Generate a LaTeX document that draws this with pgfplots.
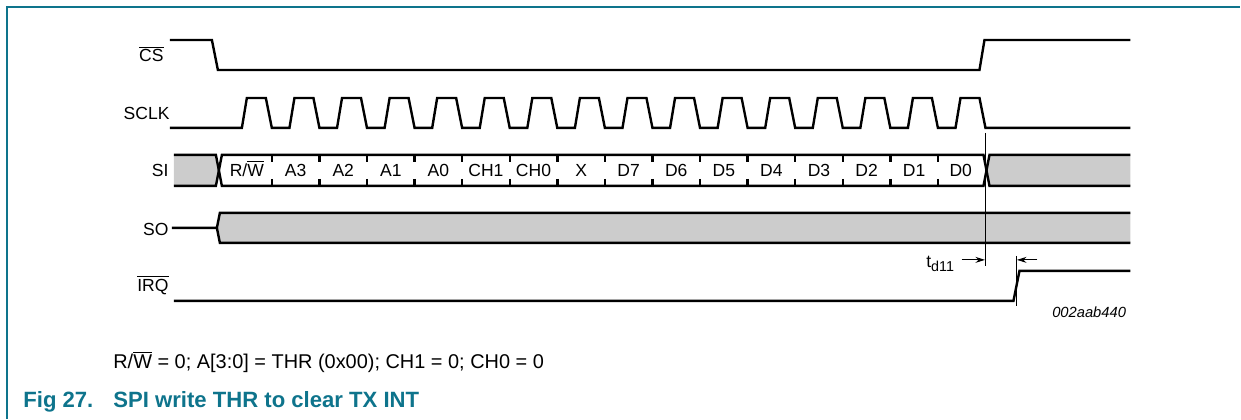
\documentclass[border=0pt]{standalone}
\usepackage{fontspec}
\setmainfont{Liberation Sans}
\usepackage{pgfplots}
\pgfplotsset{compat=1.18}
\usetikzlibrary{arrows.meta}
\definecolor{nxpteal}{RGB}{14,116,140}
\definecolor{busgray}{RGB}{204,204,204}
\newcommand{\lbl}{\fontsize{8.8}{10}\selectfont}
\tikzset{
  sig/.style={black, line width=1.2bp, mark=none},
  thinl/.style={black, line width=0.5bp, mark=none},
  lab/.style={inner sep=0pt, font=\lbl},
}

\begin{document}
\begin{tikzpicture}
\begin{axis}[
    scale only axis,
    width=620.5bp, height=209.5bp,
    xmin=0, xmax=1241, ymin=0, ymax=419,
    y dir=reverse,
    hide axis,
    clip=false,
]
% page extent and frame
\addplot[draw=none] coordinates {(0,0) (1241,419)};
\addplot[draw=nxpteal, line width=0.65bp] coordinates {(7,419) (7,7) (1241,7)};

% CS
\addplot[sig] coordinates {(170,40) (212,40) (218,70) (980,70) (985,40) (1131,40)};

% SCLK, 16 clocks
\addplot[sig] coordinates {
(170,128)
(242,128)(247,98)(266,98)(272,128)
(289.6,128)(294.6,98)(313.6,98)(319.6,128)
(337.2,128)(342.2,98)(361.2,98)(367.2,128)
(384.8,128)(389.8,98)(408.8,98)(414.8,128)
(432.4,128)(437.4,98)(456.4,98)(462.4,128)
(480,128)(485,98)(504,98)(510,128)
(527.6,128)(532.6,98)(551.6,98)(557.6,128)
(575.2,128)(580.2,98)(599.2,98)(605.2,128)
(622.8,128)(627.8,98)(646.8,98)(652.8,128)
(670.4,128)(675.4,98)(694.4,98)(700.4,128)
(718,128)(723,98)(742,98)(748,128)
(765.6,128)(770.6,98)(789.6,98)(795.6,128)
(813.2,128)(818.2,98)(837.2,98)(843.2,128)
(860.8,128)(865.8,98)(884.8,98)(890.8,128)
(908.4,128)(913.4,98)(932.4,98)(938.4,128)
(956,128)(961,98)(980,98)(986,128)
(1131,128)};

% SI bus
\addplot[fill=busgray, draw=none] coordinates {(174,155) (216,155) (219,170.5) (216,186) (174,186)};
\addplot[fill=busgray, draw=none] coordinates {(987,170.5) (990,155) (1131,155) (1131,186) (990,186)};
\addplot[sig] coordinates {(174,155) (216,155) (222,186) (984,186) (990,155) (1131,155)};
\addplot[sig] coordinates {(174,186) (216,186) (222,155) (984,155) (990,186) (1131,186)};
\addplot[sig, line cap=butt, unbounded coords=jump] coordinates {
(272,155)(272,162)(272,inf)(272,179)(272,186)(272,inf)
(319.6,155)(319.6,162)(319.6,inf)(319.6,179)(319.6,186)(319.6,inf)
(367.2,155)(367.2,162)(367.2,inf)(367.2,179)(367.2,186)(367.2,inf)
(414.8,155)(414.8,162)(414.8,inf)(414.8,179)(414.8,186)(414.8,inf)
(462.4,155)(462.4,162)(462.4,inf)(462.4,179)(462.4,186)(462.4,inf)
(510,155)(510,162)(510,inf)(510,179)(510,186)(510,inf)
(557.6,155)(557.6,162)(557.6,inf)(557.6,179)(557.6,186)(557.6,inf)
(605.2,155)(605.2,162)(605.2,inf)(605.2,179)(605.2,186)(605.2,inf)
(652.8,155)(652.8,162)(652.8,inf)(652.8,179)(652.8,186)(652.8,inf)
(700.4,155)(700.4,162)(700.4,inf)(700.4,179)(700.4,186)(700.4,inf)
(748,155)(748,162)(748,inf)(748,179)(748,186)(748,inf)
(795.6,155)(795.6,162)(795.6,inf)(795.6,179)(795.6,186)(795.6,inf)
(843.2,155)(843.2,162)(843.2,inf)(843.2,179)(843.2,186)(843.2,inf)
(890.8,155)(890.8,162)(890.8,inf)(890.8,179)(890.8,186)(890.8,inf)
(938.4,155)(938.4,162)(938.4,inf)(938.4,179)(938.4,186)};

% SO bus
\addplot[fill=busgray, draw=none] coordinates {(217,228) (220,213) (1131,213) (1131,243) (220,243)};
\addplot[sig] coordinates {(172,228) (217,228) (220,213) (1131,213)};
\addplot[sig] coordinates {(217,228) (220,243) (1131,243)};

% IRQ
\addplot[sig] coordinates {(174,301) (1014,301) (1020,271) (1131,271)};

% td11 timing
\addplot[thinl] coordinates {(986,133) (986,266)};
\addplot[thinl] coordinates {(1017,256) (1017,306)};
\addplot[thinl, -{Stealth[length=4.8bp, width=3bp]}] coordinates {(962,260) (985.5,260)};
\addplot[thinl, -{Stealth[length=4.8bp, width=3bp]}] coordinates {(1038,260) (1017.5,260)};

% signal names
\node[lab, anchor=base east] at (axis cs:164,62) {$\overline{\mbox{CS}}$};
\node[lab, anchor=base east] at (axis cs:170,120) {SCLK};
\node[lab, anchor=base east] at (axis cs:169,176.7) {SI};
\node[lab, anchor=base east] at (axis cs:169,236) {SO};
\node[lab, anchor=base east] at (axis cs:169,291.7) {$\overline{\mbox{IRQ}}$};

% SI bit names
\node[lab, anchor=base] at (axis cs:247,176.7) {R/$\overline{\mbox{W}}$};
\node[lab, anchor=base] at (axis cs:295.8,176.7) {A3};
\node[lab, anchor=base] at (axis cs:343.4,176.7) {A2};
\node[lab, anchor=base] at (axis cs:391,176.7) {A1};
\node[lab, anchor=base] at (axis cs:438.6,176.7) {A0};
\node[lab, anchor=base] at (axis cs:486.2,176.7) {CH1};
\node[lab, anchor=base] at (axis cs:533.8,176.7) {CH0};
\node[lab, anchor=base] at (axis cs:581.4,176.7) {X};
\node[lab, anchor=base] at (axis cs:629,176.7) {D7};
\node[lab, anchor=base] at (axis cs:676.6,176.7) {D6};
\node[lab, anchor=base] at (axis cs:724.2,176.7) {D5};
\node[lab, anchor=base] at (axis cs:771.8,176.7) {D4};
\node[lab, anchor=base] at (axis cs:819.4,176.7) {D3};
\node[lab, anchor=base] at (axis cs:867,176.7) {D2};
\node[lab, anchor=base] at (axis cs:914.6,176.7) {D1};
\node[lab, anchor=base] at (axis cs:961.2,176.7) {D0};

\node[lab, anchor=base east] at (axis cs:955,268)
  {t\raisebox{-1.8bp}{\fontsize{7.2}{8}\selectfont d11}};
\node[inner sep=0pt, anchor=base east, font=\fontsize{7.4}{9}\selectfont\itshape]
  at (axis cs:1127,318) {002aab440};

% note and caption
\node[inner sep=0pt, anchor=base west, font=\fontsize{10}{12}\selectfont]
  at (axis cs:113,369) {R/$\overline{\mbox{W}}$ = 0; A[3:0] = THR (0x00); CH1 = 0; CH0 = 0};
\node[inner sep=0pt, anchor=base west, text=nxpteal, font=\fontsize{11.1}{13}\selectfont\bfseries]
  at (axis cs:23,407.3) {Fig 27.};
\node[inner sep=0pt, anchor=base west, text=nxpteal, font=\fontsize{11.1}{13}\selectfont\bfseries]
  at (axis cs:113,407.3) {SPI write THR to clear TX INT};
\end{axis}
\end{tikzpicture}
\end{document}
